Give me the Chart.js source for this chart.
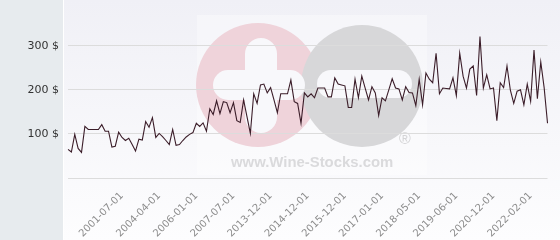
<!DOCTYPE html>
<html>
<head>
<meta charset="utf-8">
<script src="https://cdn.jsdelivr.net/npm/chart.js@4"></script>
<style>
  html, body { margin: 0; padding: 0; background: #fff; overflow: hidden; }
  #caixa { width: 560px; height: 254px; margin-top: -14px; }
</style>
</head>
<body>
<div id="caixa"><canvas id="grafico"></canvas></div>
<script>
// preços (US$) por data de leilão
const precos = [
  65, 59, 99, 67, 58, 117, 110, 110, 110, 110, 121, 106, 106, 70, 72, 104, 92, 85, 90, 76,
  61, 88, 86, 128, 115, 137, 92, 101, 94, 85, 76, 110, 74, 76, 85, 93, 99, 103, 124, 117,
  125, 106, 157, 144, 175, 146, 173, 171, 148, 171, 130, 126, 177, 139, 101, 191, 169, 211, 213, 193,
  205, 177, 148, 191, 191, 191, 222, 173, 169, 124, 193, 184, 191, 182, 204, 204, 204, 184, 184, 227,
  213, 211, 209, 160, 160, 224, 182, 231, 204, 177, 207, 193, 142,
  182, 175, 200, 225, 204, 202, 177, 207, 194, 193, 164, 224, 166, 238, 224, 216, 283, 191, 204, 203,
  202, 227, 187, 283, 231, 204, 247, 254, 187, 321, 204, 234, 202, 204, 130, 216, 205, 254, 199, 169,
  197, 200, 166, 213, 174, 290, 180, 263, 205, 124
];

// datas que aparecem no eixo x
const rotulos = [
  "2001-07-01", "2004-04-01", "2006-01-01", "2007-07-01", "2013-12-01", "2014-12-01",
  "2015-12-01", "2017-01-01", "2018-05-01", "2019-06-01", "2020-12-01", "2022-02-01"
];
const primeiroRotulo = 16;
const passoRotulo = 11;

const ticksY = [0, 100, 200, 300, 400];

const categorias = precos.map((p, i) => {
  const k = (i - primeiroRotulo) / passoRotulo;
  return (Number.isInteger(k) && k >= 0 && k < rotulos.length) ? rotulos[k] : "";
});

// o canvas sobe 14px na página, por isso as coordenadas da marca d'água somam 14
const dy = 14;

const fundo = {
  id: "fundo",
  beforeDraw(chart) {
    const c = chart.ctx;
    const largura = chart.width;
    const altura = chart.height;
    c.save();

    const grad = c.createLinearGradient(0, dy, 0, altura);
    grad.addColorStop(0, "#f0f0f6");
    grad.addColorStop(1, "#fdfdfe");
    c.fillStyle = grad;
    c.fillRect(0, 0, largura, altura);

    c.fillStyle = "#e7ebee";
    c.fillRect(0, 0, 63, altura);
    c.fillStyle = "#ffffff";
    c.fillRect(63, 0, 1, altura);

    // marca d'água
    c.translate(0, dy);
    c.fillStyle = "rgba(255,255,255,0.35)";
    c.fillRect(197, 15, 230, 160);

    c.fillStyle = "#efd3da";
    c.beginPath();
    c.arc(258, 85, 62, 0, Math.PI * 2);
    c.fill();

    c.fillStyle = "#d7d7d9";
    c.beginPath();
    c.arc(362, 86, 61, 0, Math.PI * 2);
    c.fill();

    c.fillStyle = "#f8f8fb";
    c.beginPath();
    c.roundRect(245, 38, 32, 95, 16);
    c.fill();
    c.beginPath();
    c.roundRect(213, 70, 92, 30, 15);
    c.fill();
    c.beginPath();
    c.roundRect(317, 70, 95, 28, 14);
    c.fill();

    c.fillStyle = "#d4d4d6";
    c.font = "16px 'Liberation Sans'";
    c.textAlign = "center";
    c.textBaseline = "middle";
    c.fillText("®", 405, 140);

    c.fillStyle = "#dadadc";
    c.textAlign = "left";
    c.textBaseline = "alphabetic";
    let tam = 17;
    c.font = "bold " + tam + "px 'Liberation Sans'";
    tam = tam * 162 / c.measureText("www.Wine-Stocks.com").width;
    c.font = "bold " + tam.toFixed(1) + "px 'Liberation Sans'";
    c.fillText("www.Wine-Stocks.com", 231, 167);

    c.restore();
  }
};

const grafico = new Chart(document.getElementById("grafico"), {
  type: "line",
  data: {
    labels: categorias,
    datasets: [{
      data: precos,
      borderColor: "#3b1d29",
      borderWidth: 1.1,
      pointRadius: 0,
      tension: 0,
      fill: false
    }]
  },
  options: {
    responsive: true,
    maintainAspectRatio: false,
    animation: false,
    layout: { padding: { top: 0, right: 5, left: 0, bottom: 0 } },
    plugins: {
      legend: { display: false },
      tooltip: { enabled: false }
    },
    scales: {
      x: {
        offset: false,
        grid: { display: false },
        border: { display: false },
        afterFit: (escala) => { escala.height = 62; },
        ticks: {
          autoSkip: false,
          minRotation: 45,
          maxRotation: 45,
          padding: 4,
          color: "#8c8c8c",
          font: { family: "DejaVu Sans", size: 10 },
          callback: (valor, i) => categorias[i]
        }
      },
      y: {
        min: ticksY[0],
        max: ticksY[ticksY.length - 1],
        afterFit: (escala) => { escala.width = 68; },
        border: { display: false },
        grid: {
          drawTicks: false,
          color: (ctx) => ctx.tick && ctx.tick.value === ticksY[ticksY.length - 1] ? "rgba(0,0,0,0)" : "#dcdcdc"
        },
        ticks: {
          stepSize: 100,
          padding: 9,
          color: "#333333",
          font: { family: "DejaVu Sans", size: 11 },
          callback: (v) => (v === ticksY[0] || v === ticksY[ticksY.length - 1]) ? "" : v + " $"
        }
      }
    }
  },
  plugins: [fundo]
});
</script>
</body>
</html>
